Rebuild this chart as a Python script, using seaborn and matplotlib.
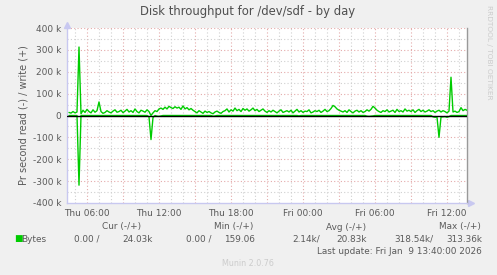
import numpy as np
import pandas as pd
import matplotlib
matplotlib.use("Agg")
import matplotlib.pyplot as plt
import matplotlib.dates as mdates
import seaborn as sns

# ---------------- data (k bytes / s, 10-minute samples) ----------------
start_time = "2026-01-08 04:30"
n_points = 200
write_k = [
    14, 11, 18, 12, 16,
    313,
    8, 24, 14, 28, 18, 12, 26, 15, 22,
    62,
    18, 10, 14, 22, 16, 12, 20, 26, 15, 18, 24, 13, 20, 28, 16, 22, 14, 30, 18, 12, 24, 20, 15, 26, 18,
    0.16,
    12, 22, 18, 30,
    34, 28, 38, 30, 42, 36, 32, 40, 34, 38, 28, 44, 30, 36, 26, 32, 24,
    18, 12, 22, 16, 10, 20, 14, 18, 12, 8, 16, 20, 14, 10, 18, 22, 30, 16,
    26, 20, 34, 22, 28, 18, 32, 24, 30, 20, 26, 34, 22, 28, 18, 24, 30, 20,
    14, 22, 16, 24, 18, 12, 20, 26, 14, 18, 22, 16, 24, 12, 20, 28, 16, 22, 14, 20, 18, 26, 12, 16, 22, 18, 24, 14, 20, 28, 18, 22,
    32, 46, 40, 30, 24, 20,
    16, 22, 14, 26, 18, 12, 20, 24, 16, 22, 14, 18, 26, 20,
    28, 42, 34, 24, 18,
    14, 22, 18, 26, 16, 20, 24, 14, 28, 18, 22, 16, 30, 20, 24, 18, 26, 14, 22, 28, 18, 24, 16, 20, 26, 18, 22, 14, 20, 24, 16, 22, 18, 12, 20,
    175,
    16, 20, 14, 18, 36, 22, 28, 24,
]
read_k = [0] * n_points
read_spikes = {5: 318.5, 40: 6, 41: 110, 42: 9, 44: 3, 45: 4, 46: 2, 72: 3, 73: 2,
               115: 2, 149: 3, 150: 4, 151: 3, 152: 2, 182: 6, 183: 8, 184: 7,
               185: 100, 186: 7, 187: 6, 188: 5, 189: 8, 190: 5}
for k, v in read_spikes.items():
    read_k[k] = v

y_ticks = [-400, -300, -200, -100, 0, 100, 200, 300, 400]
y_labels = ["-400 k", "-300 k", "-200 k", "-100 k", "0", "100 k", "200 k", "300 k", "400 k"]

legend_headers = ["Cur (-/+)", "Min (-/+)", "Avg (-/+)", "Max (-/+)"]
legend_values = [("0.00 /", "24.03k"), ("0.00 /", "159.06"), ("2.14k/", "20.83k"), ("318.54k/", "313.36k")]

# ---------------- figure ----------------
W, H = 497, 275
sns.set_style("white")
plt.rcParams["font.family"] = ["DejaVu Sans"]
fig = plt.figure(figsize=(W / 100, H / 100), dpi=100)
fig.patch.set_facecolor("#F0F0F0")

L, R, T, B = 67, 467, 28, 203
ax = fig.add_axes([L / W, 1 - B / H, (R - L) / W, (B - T) / H])
ax.set_facecolor("white")

times = pd.date_range(start_time, periods=n_points, freq="10min")
df = pd.DataFrame({"time": times, "write": np.array(write_k) * 1000,
                   "read": -np.array(read_k) * 1000})

t0 = pd.Timestamp("2026-01-08 04:20")
t1 = pd.Timestamp("2026-01-09 13:40")
ax.set_xlim(t0, t1)
ax.set_ylim(-400000, 400000)

# grid
for h in pd.date_range("2026-01-08 05:00", t1, freq="1h"):
    col = "#E4AAAA" if h.hour % 3 == 0 else "#D0D0D0"
    ax.axvline(h, color=col, lw=0.8, ls=(0, (1, 2)), zorder=1)
for v in range(-350000, 400001, 50000):
    col = "#E4AAAA" if v % 100000 == 0 else "#D0D0D0"
    ax.axhline(v, color=col, lw=0.8, ls=(0, (1, 2)), zorder=1)

sns.lineplot(data=df, x="time", y="write", ax=ax, color="#00CC00", lw=1.0, zorder=3)
sns.lineplot(data=df, x="time", y="read", ax=ax, color="#00CC00", lw=1.0, zorder=3)
ax.axhline(0, color="black", lw=1.0, zorder=4)

ax.set_yticks([v * 1000 for v in y_ticks])
ax.set_yticklabels(y_labels)
ax.xaxis.set_major_locator(mdates.HourLocator(byhour=[0, 6, 12, 18]))
ax.xaxis.set_major_formatter(mdates.DateFormatter("%a %H:%M"))
ax.tick_params(axis="both", labelsize=6.5, labelcolor="#5A5A5A", length=2,
               color="#E4AAAA", pad=2)
ax.set_xlabel("")
ax.set_ylabel("Pr second read (-) / write (+)", fontsize=7, color="#5A5A5A", labelpad=3)

ax.spines["top"].set_visible(False)
ax.spines["left"].set_color("#C8C8F0")
ax.spines["bottom"].set_color("#C8C8F0")
ax.spines["right"].set_color("#999999")
for s in ["left", "bottom", "right"]:
    ax.spines[s].set_linewidth(1.0)
ax.plot([0], [1.02], marker="^", color="#C8C8F0", ms=4, transform=ax.transAxes, clip_on=False)
ax.plot([1.01], [0], marker=">", color="#C8C8F0", ms=4, transform=ax.transAxes, clip_on=False)

def ftext(x, y, s, **kw):
    fig.text(x / W, 1 - y / H, s, **kw)

ftext(248, 12, "Disk throughput for /dev/sdf - by day", ha="center", va="center",
      fontsize=8.4, color="#505050")
ftext(489, 5, "RRDTOOL / TOBI OETIKER", rotation=270, ha="center", va="top",
      fontsize=5.3, color="#CCCCCC")

txt = dict(fontsize=6.4, color="#5A5A5A", va="center")
hdr_cx = [122, 234, 346, 460]
for cx, h in zip(hdr_cx, legend_headers):
    ftext(cx, 227, h, ha="center", **txt)
ftext(14, 239, "\u25A0", ha="left", fontsize=6.5, color="#00CC00", va="center")
ftext(21, 239, "Bytes", ha="left", **txt)
val_right = [(99, 153), (211, 255), (320, 367), (433, 482)]
for (r1, r2), (a, b) in zip(val_right, legend_values):
    ftext(r1, 239, a, ha="right", **txt)
    ftext(r2, 239, b, ha="right", **txt)
ftext(482, 251, "Last update: Fri Jan  9 13:40:00 2026", ha="right", **txt)
ftext(248, 263, "Munin 2.0.76", ha="center", fontsize=5.8, color="#CCCCCC", va="center")

fig.savefig("out.png", dpi=100, facecolor=fig.get_facecolor())
